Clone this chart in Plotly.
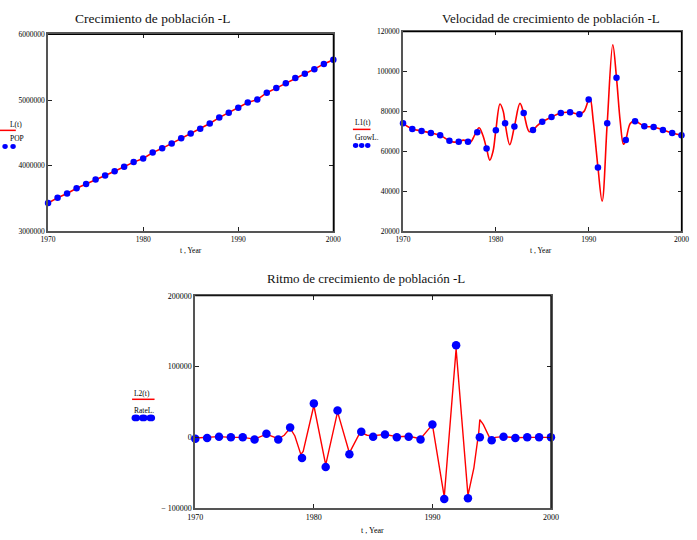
import plotly.graph_objects as go

# ---------------- data ----------------
years = list(range(1970, 2001))

pop = [3429000, 3509000, 3574000, 3654000, 3719000, 3789000, 3849000, 3914000,
       3984000, 4053000, 4108000, 4198000, 4263000, 4338000, 4418000, 4488000,
       4563000, 4643000, 4732000, 4807000, 4882000, 4962000, 5007000, 5112000,
       5182000, 5257000, 5336000, 5401000, 5471000, 5551000, 5616000]

grow = [74000, 71200, 70200, 69200, 68000, 65300, 64800, 64800, 69500, 61400,
        70600, 74100, 72400, 79200, 70700, 74800, 77200, 79200, 79500, 78600,
        86000, 51900, 74100, 96800, 65700, 75100, 72500, 72200, 70700, 69200,
        68000]

rate = [-2000, -1000, 1000, 0, 0, -3000, 5000, -3000, 14000, -29000,
        48000, -42000, 38000, -24000, 8000, 1000, 4000, 0, 1000, -3000,
        18000, -87000, 130000, -86000, 0, -4000, 1000, -1000, 0, 0, 0]

# red curves (t, value)
L1_t = [1970, 1971, 1972, 1973, 1974, 1975, 1975.5, 1976, 1976.5, 1977, 1977.3,
        1977.7, 1978.2, 1978.6, 1979, 1979.35, 1979.7, 1980, 1980.45, 1980.8,
        1981, 1981.5, 1982, 1982.6, 1983, 1983.6, 1984, 1984.5, 1985, 1986,
        1987, 1988, 1989, 1989.5, 1990, 1990.15, 1990.5, 1991, 1991.45, 1992,
        1992.6, 1993, 1993.4, 1993.75, 1994, 1994.5, 1995, 1996, 1997, 1998,
        1999, 2000]
L1_v = [74000, 71200, 70200, 69200, 68000, 65300, 64600, 64800, 65600, 65000, 64700,
        68000, 71800, 68000, 61400, 55600, 60000, 70600, 83700, 80000,
        74100, 63300, 72400, 84000, 79200, 69800, 70700, 73000, 74800, 77200,
        79200, 79500, 78600, 80000, 86000, 86800, 75000, 52000, 35000, 74100,
        113400, 96800, 75000, 63500, 65700, 74000, 75100, 72500, 72200, 70700,
        69200, 68000]

L2_t = [1970, 1971, 1972, 1973, 1974, 1975, 1976, 1977, 1977.5, 1978, 1978.4,
        1978.9, 1979.1, 1980, 1981, 1982, 1983, 1983.9, 1984.5, 1985, 1986,
        1987, 1988, 1989, 1990, 1991, 1992, 1993, 1993.5, 1993.8, 1993.9,
        1994.0, 1994.3, 1994.9, 1995.3, 1996, 1997, 1998, 1999, 2000]
L2_v = [-1000, -500, 1000, 0, 0, -2500, 4500, -2000, 3000, 13000, 2000,
        -24000, -20000, 45000, -39000, 36000, -22000, 7000, 3000, 2500, 4000,
        1000, 1500, -2000, 18000, -84000, 125000, -82000, -43000, -6000, 5000,
        25000, 18000, -3000, 0, 1000, -500, 0, 0, 0]

x_ticks = [1970, 1980, 1990, 2000]
x_ticktext = ["1970", "1980", "1990", "2000"]
pop_ticks = [3000000, 4000000, 5000000, 6000000]
pop_ticktext = ["3000000", "4000000", "5000000", "6000000"]
grow_ticks = [20000, 40000, 60000, 80000, 100000, 120000]
grow_ticktext = ["20000", "40000", "60000", "80000", "100000", "120000"]
rate_ticks = [-100000, 0, 100000, 200000]
rate_ticktext = ["\u2212 100000", "0", "100000", "200000"]

titles = ["Crecimiento de población -L",
          "Velocidad de crecimiento de población -L",
          "Ritmo de crecimiento de población -L"]
xlabel = "t , Year"

# ---------------- figure ----------------
FONT = "Liberation Serif"
RED = "#ff0000"
BLUE = "#0000ff"
W, H = 697, 540

fig = go.Figure()

fig.add_trace(go.Scatter(x=years, y=pop, mode="lines", line=dict(color=RED, width=1.6),
                         xaxis="x", yaxis="y", hoverinfo="skip"))
fig.add_trace(go.Scatter(x=years, y=pop, mode="markers", marker=dict(color=BLUE, size=6.5),
                         cliponaxis=False, xaxis="x", yaxis="y"))

fig.add_trace(go.Scatter(x=L1_t, y=L1_v, mode="lines",
                         line=dict(color=RED, width=1.6, shape="spline", smoothing=1.0),
                         xaxis="x2", yaxis="y2", hoverinfo="skip"))
fig.add_trace(go.Scatter(x=years, y=grow, mode="markers", marker=dict(color=BLUE, size=6.5),
                         cliponaxis=False, xaxis="x2", yaxis="y2"))

fig.add_trace(go.Scatter(x=L2_t, y=L2_v, mode="lines", line=dict(color=RED, width=1.4),
                         xaxis="x3", yaxis="y3", hoverinfo="skip"))
fig.add_trace(go.Scatter(x=years, y=rate, mode="markers", marker=dict(color=BLUE, size=8.5),
                         cliponaxis=False, xaxis="x3", yaxis="y3"))

def px_x(p):
    return p / W

def px_y(p):
    return 1 - p / H

domains = {
    "1": ([px_x(41), px_x(333)], [px_y(231), px_y(31)]),
    "2": ([px_x(404.3), px_x(689.3)], [px_y(231), px_y(28)]),
    "3": ([px_x(191.7), px_x(555.7)], [px_y(512.7), px_y(296.7)]),
}

axis_common = dict(showline=True, linecolor="#555555", linewidth=1.8, mirror="ticks",
                   ticks="inside", ticklen=4, tickcolor="#222222", tickwidth=1,
                   showgrid=False, zeroline=False, fixedrange=True)

layout = dict(width=W, height=H, margin=dict(l=0, r=0, t=0, b=0),
              paper_bgcolor="white", plot_bgcolor="white", showlegend=False,
              font=dict(family=FONT, color="black"))

yranges = {"1": ([3000000, 6000000], pop_ticks, pop_ticktext),
           "2": ([20000, 120000], grow_ticks, grow_ticktext),
           "3": ([-100000, 200000], rate_ticks, rate_ticktext)}

for k in ["1", "2", "3"]:
    xd, yd = domains[k]
    xn = "xaxis" if k == "1" else "xaxis" + k
    yn = "yaxis" if k == "1" else "yaxis" + k
    anchor_x = "y" if k == "1" else "y" + k
    anchor_y = "x" if k == "1" else "x" + k
    fs = 8 if k == "3" else 7.5
    layout[xn] = dict(domain=xd, anchor=anchor_x, range=[1970, 2000],
                      tickvals=x_ticks, ticktext=x_ticktext,
                      tickfont=dict(size=fs, family=FONT, color="black"), **axis_common)
    yr, yt, ytt = yranges[k]
    layout[yn] = dict(domain=yd, anchor=anchor_y, range=yr, tickvals=yt, ticktext=ytt,
                      tickfont=dict(size=fs, family=FONT, color="black"), **axis_common)

fig.update_layout(**layout)

# black top / right frame edges
for k in ["", "2", "3"]:
    xr = "x%s domain" % k
    yr_ = "y%s domain" % k
    fig.add_shape(type="line", xref=xr, yref=yr_, x0=0, x1=1, y0=1, y1=1,
                  line=dict(color="black", width=1.2))
    fig.add_shape(type="line", xref=xr, yref=yr_, x0=1, x1=1, y0=0, y1=1,
                  line=dict(color="black", width=1.2))

# titles
title_pos = [(148, 15, 13.5), (556, 15, 13), (366, 279, 13)]
for t, (cx, cy, fs) in zip(titles, title_pos):
    fig.add_annotation(text=t, x=px_x(cx), y=px_y(cy), xref="paper", yref="paper",
                       showarrow=False, xanchor="center", yanchor="middle",
                       font=dict(size=fs, family=FONT, color="#111111"))

# axis titles
for (cx, cy, fs) in [(187, 251, 7.5), (546, 251, 7.5), (373, 535, 8)]:
    fig.add_annotation(text=xlabel, x=px_x(cx), y=px_y(cy), xref="paper", yref="paper",
                       showarrow=False, xanchor="center", yanchor="middle",
                       font=dict(size=fs, family=FONT, color="black"))

# legend glyphs (Mathcad style, at the left of each plot)
legends = [
    # (line label, dots label, x_text, x_left, y_label1, y_line, y_label2, y_dots, x_right, dot_r)
    ("L(t)", "POP", 0.5, -14, 123, 128.5, 137, 145, 8, 2.8),
    ("L1(t)", "GrowL.", 353, 353, 120, 127.5, 136, 144, 371, 2.8),
    ("L2(t)", "RateL.", 127, 127, 396, 402, 413, 421, 150, 3.8),
]
for l1, l2, xt, xl, y1, yl, y2, yd, xr, r in legends:
    fig.add_annotation(text=l1, x=px_x(xt), y=px_y(y1), xref="paper", yref="paper",
                       showarrow=False, xanchor="left", yanchor="middle",
                       font=dict(size=7.5, family=FONT, color="black"))
    fig.add_annotation(text=l2, x=px_x(xt), y=px_y(y2), xref="paper", yref="paper",
                       showarrow=False, xanchor="left", yanchor="middle",
                       font=dict(size=7.5, family=FONT, color="black"))
    fig.add_shape(type="line", xref="paper", yref="paper", x0=px_x(xl), x1=px_x(xr),
                  y0=px_y(yl), y1=px_y(yl), line=dict(color=RED, width=1.5))
    step = (xr - xl - 2 * r) / 2.0
    for i in range(3):
        cx = xl + r + i * step
        sx = 1.15 if r > 3 else 1
        fig.add_shape(type="circle", xref="paper", yref="paper",
                      x0=px_x(cx - r * sx), x1=px_x(cx + r * sx),
                      y0=px_y(yd + r * 0.9), y1=px_y(yd - r * 0.9),
                      fillcolor=BLUE, line=dict(width=0))

fig.write_html("out.html")
